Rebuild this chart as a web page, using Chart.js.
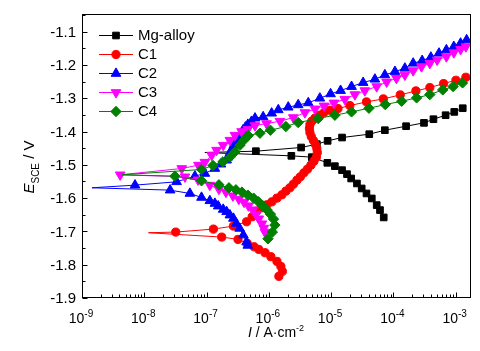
<!DOCTYPE html>
<html>
<head>
<meta charset="utf-8">
<script src="https://cdn.jsdelivr.net/npm/chart.js@4.4.1/dist/chart.umd.min.js"></script>
<style>
  html, body { margin: 0; padding: 0; background: #fff; }
  canvas { display: block; }
</style>
</head>
<body>
<canvas id="chart" width="480" height="351"></canvas>
<script>
// polarization curves, each listed from the cathodic end up to the anodic end
const seriesNames = ["Mg-alloy", "C1", "C2", "C3", "C4"];

const mgCurrent = [7.0e-5, 6.1e-5, 5.4e-5, 4.5e-5, 3.7e-5, 3.1e-5, 2.6e-5, 2.1e-5, 1.8e-5, 1.5e-5,
  1.15e-5, 8.7e-6, 4.9e-6, 2.3e-6, 9.4e-8, 6.2e-7, 3.3e-6, 5.9e-6, 8.8e-6, 1.5e-5,
  4.1e-5, 7.3e-5, 1.6e-4, 3.1e-4, 4.4e-4, 6.9e-4, 9.5e-4, 1.3e-3];
const mgPotential = [-1.658, -1.636, -1.621, -1.601, -1.586, -1.571, -1.556, -1.541, -1.528, -1.516,
  -1.504, -1.494, -1.477, -1.473, -1.463, -1.459, -1.448, -1.438, -1.428, -1.418,
  -1.408, -1.396, -1.384, -1.374, -1.363, -1.351, -1.341, -1.330];

const c1Current = [1.45e-6, 1.65e-6, 1.56e-6, 1.35e-6, 1.08e-6, 8.7e-7, 6.9e-7, 5.8e-7, 4.5e-7, 3.2e-7,
  1.75e-7, 1.17e-8, 3.2e-8, 1.29e-7, 2.7e-7, 4.4e-7, 5.4e-7, 6.4e-7, 7.8e-7, 9.3e-7,
  1.12e-6, 1.35e-6, 1.62e-6, 1.88e-6, 2.18e-6, 2.48e-6, 2.83e-6, 3.21e-6, 3.66e-6, 4.17e-6,
  4.74e-6, 5.3e-6, 5.8e-6, 6.0e-6, 5.9e-6, 5.6e-6, 5.2e-6, 4.8e-6, 4.57e-6, 4.49e-6,
  4.57e-6, 4.9e-6, 5.5e-6, 6.4e-6, 7.7e-6, 9.6e-6, 1.29e-5, 2.0e-5, 3.7e-5, 6.9e-5,
  1.29e-4, 2.3e-4, 3.85e-4, 6.4e-4, 1.01e-3, 1.46e-3];
const c1Potential = [-1.835, -1.820, -1.805, -1.790, -1.776, -1.764, -1.754, -1.746, -1.736, -1.724,
  -1.717, -1.704, -1.702, -1.693, -1.684, -1.671, -1.656, -1.639, -1.629, -1.620,
  -1.611, -1.600, -1.590, -1.579, -1.569, -1.558, -1.546, -1.536, -1.524, -1.513,
  -1.501, -1.489, -1.477, -1.463, -1.451, -1.439, -1.427, -1.415, -1.403, -1.391,
  -1.379, -1.369, -1.360, -1.351, -1.343, -1.336, -1.331, -1.322, -1.311, -1.302,
  -1.290, -1.278, -1.268, -1.256, -1.246, -1.237];

const c2Current = [4.6e-7, 4.4e-7, 3.9e-7, 3.4e-7, 3.0e-7, 2.7e-7, 2.37e-7, 2.1e-7, 1.85e-7, 1.54e-7,
  1.36e-7, 1.13e-7, 8.3e-8, 5.4e-8, 2.6e-8, 1.45e-9, 7.1e-9, 3.3e-8, 6.5e-8, 9.4e-8,
  1.36e-7, 1.7e-7, 2.1e-7, 2.2e-7, 2.37e-7, 2.56e-7, 2.75e-7, 3.0e-7, 3.25e-7, 3.52e-7,
  3.84e-7, 4.21e-7, 4.6e-7, 5.26e-7, 6.0e-7, 8.1e-7,
  1.11e-6, 1.42e-6, 2.05e-6, 2.96e-6, 4.3e-6, 6.6e-6, 9.8e-6, 1.42e-5, 2.13e-5, 3.27e-5,
  5.05e-5, 7.3e-5, 1.06e-4, 1.53e-4, 2.08e-4, 2.9e-4, 4.0e-4, 5.4e-4, 7.1e-4, 9.35e-4,
  1.2e-3, 1.5e-3];
const c2Potential = [-1.742, -1.732, -1.711, -1.691, -1.676, -1.661, -1.651, -1.641, -1.634, -1.624,
  -1.616, -1.608, -1.598, -1.586, -1.576, -1.569, -1.561, -1.551, -1.534, -1.526,
  -1.511, -1.498, -1.486, -1.477, -1.465, -1.453, -1.441, -1.429, -1.417, -1.406,
  -1.396, -1.387, -1.379, -1.370, -1.360, -1.356,
  -1.345, -1.335, -1.327, -1.320, -1.314, -1.300, -1.287, -1.277, -1.265, -1.253,
  -1.243, -1.230, -1.220, -1.210, -1.195, -1.187, -1.177, -1.165, -1.155, -1.145,
  -1.135, -1.125];

const c3Current = [8.65e-7, 8.3e-7, 7.75e-7, 6.9e-7, 6.2e-7, 5.5e-7, 4.7e-7, 4.0e-7, 3.3e-7, 2.65e-7,
  2.05e-7, 1.58e-7, 1.13e-7, 7.3e-8, 4.5e-8, 4.1e-9, 4.0e-8, 7.4e-8, 9.4e-8, 1.21e-7,
  1.45e-7, 1.85e-7, 2.37e-7, 2.86e-7, 3.66e-7, 4.6e-7, 6.0e-7, 9.2e-7, 1.51e-6, 2.47e-6,
  3.8e-6, 5.5e-6, 7.7e-6, 1.11e-5, 1.66e-5, 2.41e-5, 3.48e-5, 5.4e-5, 7.8e-5, 1.12e-4,
  1.53e-4, 2.08e-4, 2.83e-4, 3.85e-4, 5.05e-4, 7.1e-4, 9.35e-4, 1.2e-3, 1.46e-3];
const c3Potential = [-1.702, -1.690, -1.677, -1.662, -1.648, -1.635, -1.623, -1.612, -1.603, -1.593,
  -1.582, -1.573, -1.561, -1.545, -1.536, -1.530, -1.511, -1.501, -1.492, -1.471,
  -1.456, -1.441, -1.426, -1.411, -1.400, -1.393, -1.382, -1.376, -1.369, -1.358,
  -1.343, -1.332, -1.323, -1.314, -1.303, -1.289, -1.277, -1.265, -1.251, -1.240,
  -1.230, -1.217, -1.205, -1.195, -1.185, -1.175, -1.163, -1.153, -1.145];

const c4Current = [9.7e-7, 1.14e-6, 1.25e-6, 1.19e-6, 1.06e-6, 9.3e-7, 8.0e-7, 6.8e-7, 5.7e-7, 4.6e-7,
  3.7e-7, 2.96e-7, 2.29e-7, 1.58e-7, 8.3e-8, 3.1e-8, 4.4e-9, 8.3e-8, 1.27e-7, 1.83e-7,
  2.37e-7, 2.86e-7, 3.44e-7, 3.98e-7, 4.67e-7, 7.2e-7, 1.06e-6, 1.88e-6, 2.96e-6, 6.2e-6,
  1.15e-5, 2.13e-5, 4.05e-5, 7.4e-5, 1.36e-4, 2.36e-4, 3.85e-4, 6.2e-4, 9.1e-4, 1.29e-3];
const c4Potential = [-1.722, -1.702, -1.681, -1.663, -1.648, -1.635, -1.623, -1.611, -1.600, -1.591,
  -1.582, -1.575, -1.569, -1.560, -1.548, -1.534, -1.530, -1.514, -1.502, -1.491,
  -1.477, -1.461, -1.441, -1.426, -1.412, -1.405, -1.396, -1.385, -1.373, -1.361,
  -1.351, -1.341, -1.330, -1.319, -1.309, -1.299, -1.289, -1.275, -1.265, -1.254];

// axis ticks
const xTickExponents = [-9, -8, -7, -6, -5, -4, -3];
const yTickValues = [-1.1, -1.2, -1.3, -1.4, -1.5, -1.6, -1.7, -1.8, -1.9];

const FONT = '"Liberation Sans", Arial, Helvetica, sans-serif';

const styles = [
  { color: "#000000", shape: "rect", radius: 4.7, rotation: 0, markEcorr: false },
  { color: "#ff0000", shape: "circle", radius: 4.1, rotation: 0, markEcorr: false },
  { color: "#0000ff", shape: "triangle", radius: 5.6, rotation: 0, markEcorr: false },
  { color: "#ff00ff", shape: "triangle", radius: 5.6, rotation: 180, markEcorr: true },
  { color: "#008000", shape: "rectRot", radius: 5.2, rotation: 0, markEcorr: false },
];
const currents = [mgCurrent, c1Current, c2Current, c3Current, c4Current];
const potentials = [mgPotential, c1Potential, c2Potential, c3Potential, c4Potential];

const datasets = seriesNames.map((name, i) => {
  const s = styles[i];
  const cur = currents[i];
  const minIdx = cur.indexOf(Math.min(...cur));
  return {
    label: name,
    data: cur.map((c, j) => ({ x: c, y: potentials[i][j] })),
    showLine: true,
    borderColor: s.color,
    borderWidth: 1,
    backgroundColor: s.color,
    pointStyle: s.shape,
    pointRotation: s.rotation,
    pointBackgroundColor: s.color,
    pointBorderColor: s.color,
    pointBorderWidth: 1,
    pointRadius: ctx => (!s.markEcorr && ctx.dataIndex === minIdx) ? 0 : s.radius,
    tension: 0,
    order: seriesNames.length - i,
  };
});

function drawMarker(ctx, s, x, y) {
  const r = s.radius;
  ctx.save();
  ctx.fillStyle = s.color;
  ctx.strokeStyle = s.color;
  ctx.lineWidth = 1;
  ctx.beginPath();
  if (s.shape === "rect") {
    const h = r * Math.SQRT1_2;
    ctx.rect(x - h, y - h, 2 * h, 2 * h);
  } else if (s.shape === "circle") {
    ctx.arc(x, y, r, 0, Math.PI * 2);
  } else if (s.shape === "triangle") {
    const dir = s.rotation === 180 ? -1 : 1;
    ctx.moveTo(x, y - dir * r);
    ctx.lineTo(x + r * 0.866, y + dir * r * 0.5);
    ctx.lineTo(x - r * 0.866, y + dir * r * 0.5);
    ctx.closePath();
  } else {
    ctx.moveTo(x - r, y);
    ctx.lineTo(x, y - r);
    ctx.lineTo(x + r, y);
    ctx.lineTo(x, y + r);
    ctx.closePath();
  }
  ctx.fill();
  ctx.stroke();
  ctx.restore();
}

function drawParts(ctx, parts, cx, baseline) {
  let total = 0;
  parts.forEach(p => { ctx.font = p.f; p.w = ctx.measureText(p.t).width; total += p.w; });
  let x = cx - total / 2;
  ctx.textAlign = "left";
  ctx.textBaseline = "alphabetic";
  parts.forEach(p => {
    ctx.font = p.f;
    ctx.fillText(p.t, x, baseline + p.dy);
    x += p.w;
  });
}

const axesPlugin = {
  id: "axesPlugin",
  afterDatasetsDraw(chart) {
    const { ctx, chartArea: a, scales } = chart;
    const xs = scales.x, ys = scales.y;
    const L = a.left + 0.5, R = a.right + 0.5, T = a.top + 0.5, B = a.bottom - 0.5;
    ctx.save();
    ctx.strokeStyle = "#000";
    ctx.lineWidth = 1;
    ctx.strokeRect(L, T, R - L, B - T);

    // x ticks (inward)
    ctx.beginPath();
    xTickExponents.forEach(e => {
      for (let m = 1; m <= 9; m++) {
        const v = m * Math.pow(10, e);
        if (v < xs.min * 0.999 || v > xs.max) continue;
        const px = Math.round(xs.getPixelForValue(v)) + 0.5;
        ctx.moveTo(px, B);
        ctx.lineTo(px, B - (m === 1 ? 5 : 3));
      }
    });
    // y ticks (inward)
    yTickValues.forEach(v => {
      const py = Math.round(ys.getPixelForValue(v)) + 0.5;
      ctx.moveTo(L, py);
      ctx.lineTo(L + 5, py);
      const mid = v + 0.05;
      if (mid < ys.max) {
        const pm = Math.round(ys.getPixelForValue(mid)) + 0.5;
        ctx.moveTo(L, pm);
        ctx.lineTo(L + 3, pm);
      }
    });
    ctx.stroke();

    ctx.fillStyle = "#000";
    // y tick labels
    ctx.font = "15px " + FONT;
    ctx.textAlign = "right";
    ctx.textBaseline = "middle";
    yTickValues.forEach(v => {
      ctx.fillText(v.toFixed(1), 76, ys.getPixelForValue(v) + 1);
    });

    // x tick labels 10^n
    ctx.textAlign = "left";
    ctx.textBaseline = "alphabetic";
    xTickExponents.forEach(e => {
      const px = xs.getPixelForValue(Math.pow(10, e));
      ctx.font = "14px " + FONT;
      const wb = ctx.measureText("10").width;
      ctx.font = "10px " + FONT;
      const we = ctx.measureText(String(e)).width;
      const x0 = px - (wb + we) / 2 - 1;
      ctx.font = "14px " + FONT;
      ctx.fillText("10", x0, 322.5);
      ctx.font = "10px " + FONT;
      ctx.fillText(String(e), x0 + wb, 316.5);
    });

    // x title: I / A·cm^-2
    drawParts(ctx, [
      { t: "I", f: "italic 14px " + FONT, dy: 0 },
      { t: " / A\u00b7cm", f: "14px " + FONT, dy: 0 },
      { t: "-2", f: "9px " + FONT, dy: -6 },
    ], (a.left + a.right) / 2, 337);

    // y title: E_SCE / V, rotated
    ctx.save();
    ctx.translate(34, 167);
    ctx.rotate(-Math.PI / 2);
    drawParts(ctx, [
      { t: "E", f: "italic 15px " + FONT, dy: 0 },
      { t: "SCE", f: "10px " + FONT, dy: 5 },
      { t: " / V", f: "15px " + FONT, dy: 0 },
    ], 0, 0);
    ctx.restore();

    // legend
    ctx.font = "15px " + FONT;
    ctx.textAlign = "left";
    ctx.textBaseline = "middle";
    seriesNames.forEach((name, i) => {
      const s = styles[i];
      const y = Math.round(35 + 18.9 * i) + 0.5;
      ctx.strokeStyle = s.color;
      ctx.beginPath();
      ctx.moveTo(99, y);
      ctx.lineTo(133, y);
      ctx.stroke();
      drawMarker(ctx, s, 116, y);
      ctx.fillStyle = "#000";
      ctx.fillText(name, 138, y + 0.5);
    });
    ctx.restore();
  },
};

new Chart(document.getElementById("chart").getContext("2d"), {
  type: "scatter",
  data: { datasets },
  options: {
    responsive: false,
    animation: false,
    layout: { padding: { left: 82, right: 10, top: 14, bottom: 53 } },
    scales: {
      x: { type: "logarithmic", min: 1e-9, max: 1.7e-3, display: false },
      y: { type: "linear", min: -1.9, max: -1.047, display: false },
    },
    plugins: { legend: { display: false }, tooltip: { enabled: false } },
  },
  plugins: [axesPlugin],
});
</script>
</body>
</html>
